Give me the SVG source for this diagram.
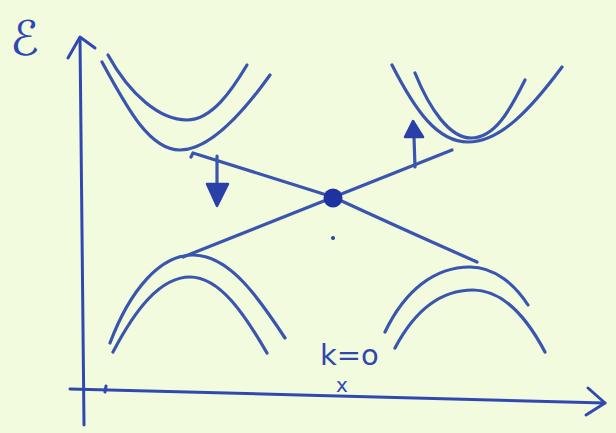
<svg xmlns="http://www.w3.org/2000/svg" width="616" height="433" viewBox="0 0 616 433">
<style>
.ln{fill:none;stroke:#3a55ad;stroke-width:3.2;stroke-linecap:round;stroke-linejoin:round}
.ax{fill:none;stroke:#3049b0;stroke-width:3;stroke-linecap:round;stroke-linejoin:round}
.tx{fill:#2f48b0;font-family:"DejaVu Sans","Liberation Sans",sans-serif}
.ah{fill:#2a40a8;stroke:#2a40a8;stroke-width:2.5;stroke-linejoin:round}
</style>
<rect width="616" height="433" fill="#f3fbdf"/>
<g id="axes">
<path class="ax" d="M84,425 L80,38"/>
<path class="ax" d="M68,58 L80,37 L95,48"/>
<path class="ax" d="M70,389 L300,395 L605,403"/>
<path class="ax" d="M588,388 L605,403 L586,415"/>
<path class="ax" d="M105,392 L106,386"/>
</g>
<g id="label-E"><text class="tx" x="10" y="55" font-size="48">ℰ</text></g>
<g id="label-k"><text class="tx" x="320" y="365" font-size="29">k=o</text>
<text class="tx" x="336" y="392" font-size="20">x</text></g>
<g id="top-left">
<path class="ln" d="M102,62 C128,110 150,150 180,150 C210,150 245,110 270,75"/>
<path class="ln" d="M108,55 C130,95 160,120 187,120 C212,120 232,90 247,65"/>
</g>
<g id="top-right">
<path class="ln" d="M392,65 C415,110 437,142 468,142 C500,142 530,110 562,67"/>
<path class="ln" d="M415,73 C430,110 450,138 471,138 C495,138 510,110 525,80"/>
</g>
<g id="bottom-left">
<path class="ln" d="M110,343 C130,290 160,255 193,255 C230,255 260,300 285,338"/>
<path class="ln" d="M113,352 C135,310 160,277 190,277 C220,277 245,315 267,353"/>
</g>
<g id="bottom-right">
<path class="ln" d="M385,332 C405,290 435,267 470,267 C495,267 515,285 528,305"/>
<path class="ln" d="M395,348 C415,310 440,290 473,290 C505,290 528,320 545,352"/>
</g>
<g id="connectors">
<path class="ln" d="M191,157 L193,153 L333,197 Q400,228 477,262"/>
<path class="ln" d="M183,257 L452,150"/>
<path class="ln" d="M217,156 L217,185"/>
<path class="ah" d="M207,184 L228,184 L217,206 Z"/>
<path class="ln" d="M415,167 L414,137"/>
<path class="ah" d="M405,137 L423,137 L413,121 Z"/>
</g>
<g id="crossing"><circle cx="333" cy="198" r="9.5" fill="#1f33a0"/>
<circle cx="333" cy="238" r="2" fill="#2a40a8"/></g>
</svg>
